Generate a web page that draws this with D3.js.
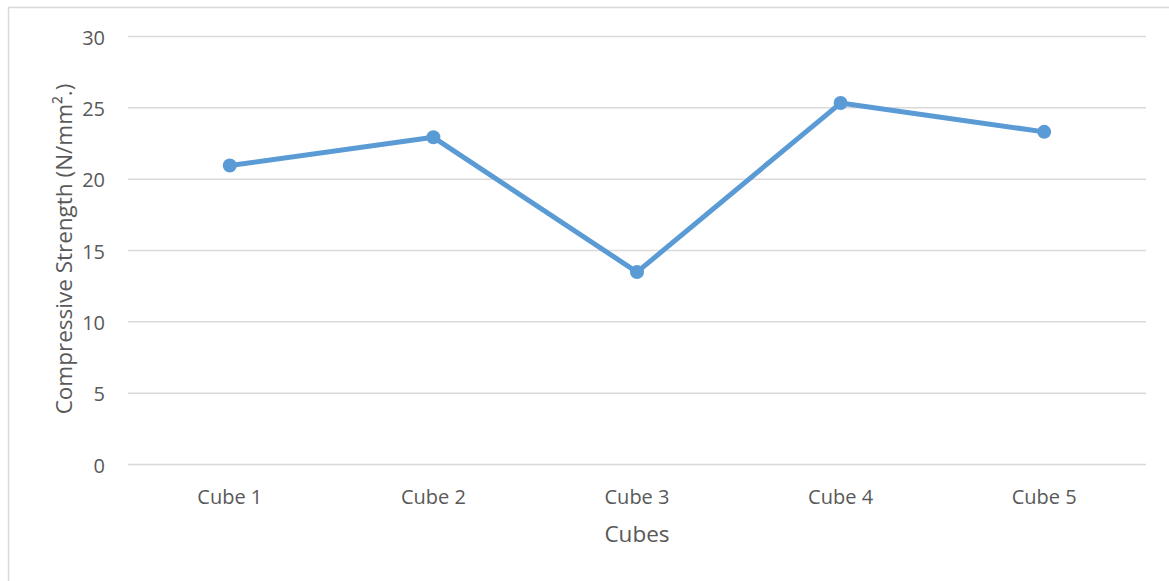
<!DOCTYPE html>
<html>
<head>
<meta charset="utf-8">
<script src="https://cdn.jsdelivr.net/npm/d3@7"></script>
<style>
  body { margin: 0; background: #fff; }
  svg text { font-family: "Open Sans", "Noto Sans", sans-serif; fill: #595959; }
</style>
</head>
<body>
<div id="chart"></div>
<script>
const svgWidth = 1169;
const svgHeight = 581;
const margins = {top: 36, right: 23, bottom: 117, left: 128};

// data
const cubes = ["Cube 1", "Cube 2", "Cube 3", "Cube 4", "Cube 5"];
const strength = [20.92, 22.9, 13.45, 25.3, 23.28];
const yTicks = [0, 5, 10, 15, 20, 25, 30];

const svg = d3.select("#chart")
  .append("svg")
  .attr("width", svgWidth)
  .attr("height", svgHeight);

// chart area border
svg.append("rect")
  .attr("x", 8.5)
  .attr("y", 7.5)
  .attr("width", svgWidth + 10)
  .attr("height", svgHeight + 10)
  .attr("fill", "none")
  .attr("stroke", "#d9d9d9")
  .attr("stroke-width", 1.5);

const xScale = d3.scaleBand()
  .domain(cubes)
  .range([margins.left, svgWidth - margins.right]);

const yScale = d3.scaleLinear()
  .domain([0, 30])
  .range([svgHeight - margins.bottom, margins.top]);

// gridlines + y labels
const yAxis = g => g
  .attr("transform", "translate(" + margins.left + ",0)")
  .call(d3.axisLeft(yScale).tickValues(yTicks)
    .tickSize(-(svgWidth - margins.left - margins.right))
    .tickPadding(23))
  .call(g => g.select(".domain").remove())
  .call(g => g.selectAll(".tick line").attr("stroke", "#d9d9d9").attr("stroke-width", 1.5))
  .call(g => g.selectAll(".tick text").attr("font-size", "20px").attr("dy", "0.4em"));

svg.append("g").call(yAxis);

const xAxis = g => g
  .attr("transform", "translate(0," + (svgHeight - margins.bottom) + ")")
  .call(d3.axisBottom(xScale).tickSize(0).tickPadding(26))
  .call(g => g.select(".domain").remove())
  .call(g => g.selectAll(".tick text").attr("font-size", "20px"));

svg.append("g").call(xAxis);

const line = d3.line()
  .x((d, i) => xScale(cubes[i]) + xScale.bandwidth() / 2)
  .y(d => yScale(d));

svg.append("path")
  .datum(strength)
  .attr("fill", "none")
  .attr("stroke", "#5b9bd5")
  .attr("stroke-width", 5)
  .attr("stroke-linejoin", "round")
  .attr("d", line);

svg.append("g")
  .selectAll("circle")
  .data(strength)
  .join("circle")
  .attr("cx", (d, i) => xScale(cubes[i]) + xScale.bandwidth() / 2)
  .attr("cy", d => yScale(d))
  .attr("r", 7)
  .attr("fill", "#5b9bd5");

// axis titles
svg.append("text")
  .attr("x", 637)
  .attr("y", 542)
  .attr("text-anchor", "middle")
  .attr("font-size", "22.5px")
  .text("Cubes");

svg.append("text")
  .attr("transform", "translate(71.5,249) rotate(-90)")
  .attr("text-anchor", "middle")
  .attr("font-size", "22.5px")
  .text("Compressive Strength (N/mm².)");
</script>
</body>
</html>
